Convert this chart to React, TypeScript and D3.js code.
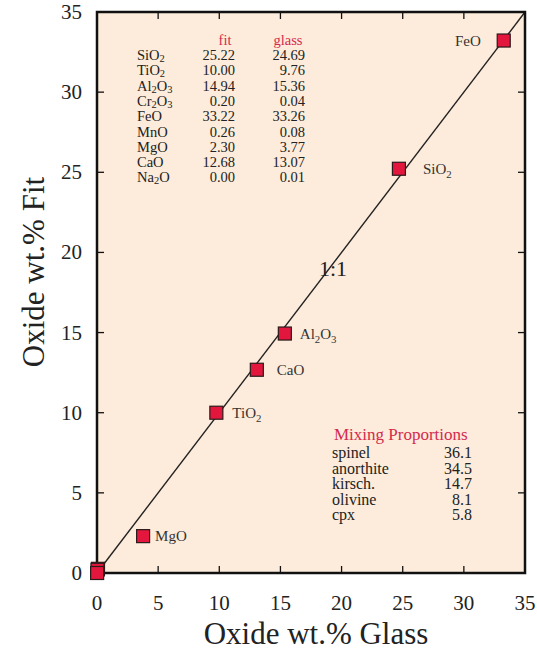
import React from "react";
import * as d3 from "d3";

const oxides = ["SiO2", "TiO2", "Al2O3", "Cr2O3", "FeO", "MnO", "MgO", "CaO", "Na2O"];
const fitValues = [25.22, 10.0, 14.94, 0.2, 33.22, 0.26, 2.3, 12.68, 0.0];
const glassValues = [24.69, 9.76, 15.36, 0.04, 33.26, 0.08, 3.77, 13.07, 0.01];
const labelledOxides = ["FeO", "SiO2", "Al2O3", "CaO", "TiO2", "MgO"];
const mixNames = ["spinel", "anorthite", "kirsch.", "olivine", "cpx"];
const mixValues = ["36.1", "34.5", "14.7", "8.1", "5.8"];
const ticks = [0, 5, 10, 15, 20, 25, 30, 35];

const W = 537, H = 653;
const m = { left: 97, right: 525, top: 12, bottom: 573 };
const RED = "#e3173e";
const TXT_RED = "#d42a4e";
const BG = "#fdecdb";
const SERIF = "'Liberation Serif', 'Times New Roman', serif";

// label placement (style): dx from point, anchor
const labelStyle: Record<string, { dx: number; dy: number; anchor: string }> = {
  FeO: { dx: -23, dy: 0, anchor: "end" },
  SiO2: { dx: 24, dy: 0, anchor: "start" },
  Al2O3: { dx: 15, dy: 0, anchor: "start" },
  CaO: { dx: 20, dy: 0, anchor: "start" },
  TiO2: { dx: 16, dy: 0, anchor: "start" },
  MgO: { dx: 12, dy: 0, anchor: "start" },
};

function Formula({ f, subDy = 4, size }: { f: string; subDy?: number; size: number }) {
  const parts = f.match(/[A-Za-z]+|\d+/g) || [];
  const out: React.ReactNode[] = [];
  let sub = false;
  parts.forEach((p, i) => {
    if (/\d/.test(p)) {
      out.push(
        <tspan key={i} dy={sub ? 0 : subDy} fontSize={size * 0.72}>
          {p}
        </tspan>
      );
      sub = true;
    } else {
      out.push(
        <tspan key={i} dy={sub ? -subDy : 0}>
          {p}
        </tspan>
      );
      sub = false;
    }
  });
  return <>{out}</>;
}

export default function App() {
  const x = d3.scaleLinear().domain([0, 35]).range([m.left, m.right]);
  const y = d3.scaleLinear().domain([0, 35]).range([m.bottom, m.top]);
  const order = d3.range(oxides.length).sort((a, b) => fitValues[b] - fitValues[a]);
  const sq = 13;
  const tickLen = 7;
  const rowH = 15.3;
  const mixH = 15.6;
  const tableFont = 14.5;
  const mixFont = 16;
  return (
    <svg
      width={W}
      height={H}
      style={{ position: "absolute", left: 0, top: 0, background: "#fff" }}
      fontFamily={SERIF}
    >
      <rect x={m.left} y={m.top} width={m.right - m.left} height={m.bottom - m.top} fill={BG} />
      {/* ticks */}
      {ticks.map((t) => (
        <g key={"t" + t} stroke="#111" strokeWidth={1.3}>
          {t > 0 && t < 35 && (
            <>
              <line x1={x(t)} x2={x(t)} y1={m.bottom} y2={m.bottom - tickLen} />
              <line x1={x(t)} x2={x(t)} y1={m.top} y2={m.top + tickLen} />
              <line x1={m.left} x2={m.left + tickLen} y1={y(t)} y2={y(t)} />
              <line x1={m.right} x2={m.right - tickLen} y1={y(t)} y2={y(t)} />
            </>
          )}
        </g>
      ))}
      {ticks.map((t) => (
        <text key={"xl" + t} x={x(t)} y={m.bottom + 37} textAnchor="middle" fontSize={21} fill="#222">
          {t}
        </text>
      ))}
      {ticks.map((t) => (
        <text key={"yl" + t} x={m.left - 15} y={y(t) + 7} textAnchor="end" fontSize={21} fill="#222">
          {t}
        </text>
      ))}
      {/* 1:1 line */}
      <line x1={x(0)} y1={y(0)} x2={x(35)} y2={y(35)} stroke="#222" strokeWidth={1.4} />
      <text x={333} y={276} textAnchor="middle" fontSize={22} fill="#222">
        1:1
      </text>
      {/* frame */}
      <rect
        x={m.left}
        y={m.top}
        width={m.right - m.left}
        height={m.bottom - m.top}
        fill="none"
        stroke="#111"
        strokeWidth={2.5}
      />
      {/* points */}
      {order.map((i) => (
        <rect
          key={"p" + i}
          x={x(glassValues[i]) - sq / 2}
          y={y(fitValues[i]) - sq / 2}
          width={sq}
          height={sq}
          fill={RED}
          stroke="#2a1a1a"
          strokeWidth={1.2}
        />
      ))}
      {labelledOxides.map((name) => {
        const i = oxides.indexOf(name);
        const s = labelStyle[name];
        return (
          <text
            key={"lab" + name}
            x={x(glassValues[i]) + s.dx}
            y={y(fitValues[i]) + 5 + s.dy}
            textAnchor={s.anchor as any}
            fontSize={15}
            fill="#333"
          >
            <Formula f={name} size={15} />
          </text>
        );
      })}
      {/* composition table */}
      <text x={225} y={45} textAnchor="middle" fontSize={14.5} fill={TXT_RED}>
        fit
      </text>
      <text x={288} y={45} textAnchor="middle" fontSize={14.5} fill={TXT_RED}>
        glass
      </text>
      {oxides.map((name, i) => (
        <g key={"row" + name} fontSize={tableFont} fill="#222">
          <text x={137} y={60 + i * rowH}>
            <Formula f={name} size={tableFont} subDy={2} />
          </text>
          <text x={235} y={60 + i * rowH} textAnchor="end">
            {fitValues[i].toFixed(2)}
          </text>
          <text x={305} y={60 + i * rowH} textAnchor="end">
            {glassValues[i].toFixed(2)}
          </text>
        </g>
      ))}
      {/* mixing proportions */}
      <text x={334} y={440} fontSize={17} fill={TXT_RED}>
        Mixing Proportions
      </text>
      {mixNames.map((n, i) => (
        <g key={"mix" + n} fontSize={mixFont} fill="#222">
          <text x={332} y={458 + i * mixH} textLength={undefined}>
            {n}
          </text>
          <text x={472} y={458 + i * mixH} textAnchor="end">
            {mixValues[i]}
          </text>
        </g>
      ))}
      {/* axis titles */}
      <text x={316} y={644} textAnchor="middle" fontSize={31} fill="#222">
        Oxide wt.% Glass
      </text>
      <text
        transform={`translate(44, 272) rotate(-90)`}
        textAnchor="middle"
        fontSize={31}
        fill="#222"
      >
        Oxide wt.% Fit
      </text>
    </svg>
  );
}
